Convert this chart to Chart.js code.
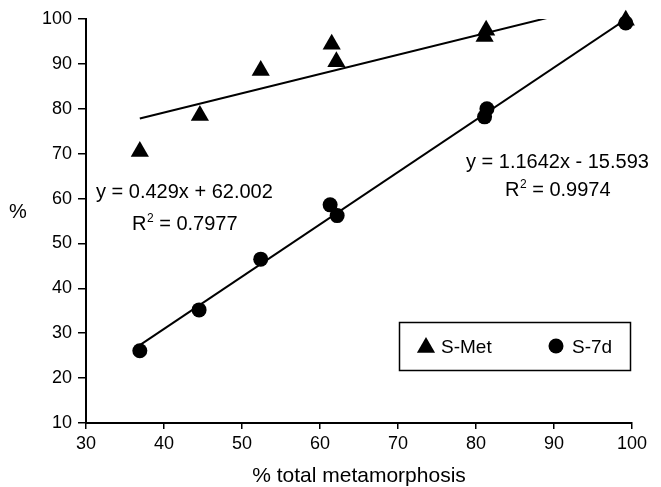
<!DOCTYPE html>
<html>
<head>
<meta charset="utf-8">
<title>S-Met / S-7d vs total metamorphosis</title>
<script src="https://cdn.jsdelivr.net/npm/chart.js@4.4.1/dist/chart.umd.min.js"></script>
<style>
  html, body { margin: 0; padding: 0; background: #fff; }
  #chart { display: block; }
</style>
</head>
<body>
<canvas id="chart" width="661" height="487"></canvas>
<script>
// Values
const metX = [36.9, 44.6, 52.4, 61.5, 62.1, 81.1, 81.3, 99.2];
const metY = [70.5, 78.5, 88.5, 94.4, 90.5, 96.1, 97.5, 99.7];
const d7X = [36.9, 44.5, 52.4, 61.3, 62.2, 81.1, 81.4, 99.2];
const d7Y = [26.1, 35.2, 46.5, 58.6, 56.2, 78.2, 80.0, 99.1];

// Linear trend lines, as printed on the chart
const metTrend = [0.429, 62.002, 0.7977];    // slope, intercept, R2
const d7Trend = [1.1642, -15.593, 0.9974];

const seriesNames = ['S-Met', 'S-7d'];
const xTicks = [30, 40, 50, 60, 70, 80, 90, 100];
const yTicks = [10, 20, 30, 40, 50, 60, 70, 80, 90, 100];

const FONT = "'Liberation Sans', Arial, Helvetica, sans-serif";
Chart.defaults.font.family = FONT;
Chart.defaults.color = '#000';

function toPoints(xs, ys) {
  return xs.map((x, i) => ({ x: x, y: ys[i] }));
}

// two end points of a fitted line, over the range of its x data
function trendPoints(xs, trend) {
  const lo = Math.min(...xs);
  const hi = Math.max(...xs);
  return [lo, hi].map(x => ({ x: x, y: trend[0] * x + trend[1] }));
}

function eqText(trend) {
  const sign = trend[1] < 0 ? ' - ' : ' + ';
  return 'y = ' + trend[0] + 'x' + sign + Math.abs(trend[1]).toFixed(3);
}

// "R" + superscript 2 + " = value"
function drawR2(ctx, x, y, value) {
  ctx.font = '20px ' + FONT;
  ctx.fillText('R', x, y);
  let w = ctx.measureText('R').width;
  ctx.font = '12px ' + FONT;
  ctx.fillText('2', x + w + 0.5, y - 8);
  w += ctx.measureText('2').width + 0.5;
  ctx.font = '20px ' + FONT;
  ctx.fillText(' = ' + value, x + w, y);
}

function drawTriangle(ctx, x, y, r) {
  ctx.beginPath();
  ctx.moveTo(x, y - r);
  ctx.lineTo(x + r * Math.sin(Math.PI * 2 / 3), y - r * Math.cos(Math.PI * 2 / 3));
  ctx.lineTo(x + r * Math.sin(Math.PI * 4 / 3), y - r * Math.cos(Math.PI * 4 / 3));
  ctx.closePath();
  ctx.fill();
}

// equations, legend box and the plain "%" axis label
const decorPlugin = {
  id: 'decor',
  afterDraw(chart) {
    const ctx = chart.ctx;
    ctx.save();
    ctx.fillStyle = '#000';
    ctx.strokeStyle = '#000';
    ctx.textAlign = 'left';
    ctx.textBaseline = 'alphabetic';

    ctx.font = '20px ' + FONT;
    ctx.fillText(eqText(metTrend), 96, 198);
    drawR2(ctx, 132, 230, metTrend[2]);

    ctx.font = '20px ' + FONT;
    ctx.fillText(eqText(d7Trend), 466, 168);
    drawR2(ctx, 505, 196, d7Trend[2]);

    // y axis label, not rotated
    ctx.font = '20px ' + FONT;
    ctx.textAlign = 'center';
    ctx.fillText('%', 18, 218);

    // legend
    ctx.lineWidth = 1.5;
    ctx.strokeRect(399.5, 322.5, 231, 48);
    drawTriangle(ctx, 426, 347.5, 10.5);
    ctx.beginPath();
    ctx.arc(556, 346, 7.5, 0, Math.PI * 2);
    ctx.fill();
    ctx.font = '19px ' + FONT;
    ctx.textAlign = 'left';
    ctx.fillText(seriesNames[0], 441, 353);
    ctx.fillText(seriesNames[1], 572, 353);
    ctx.restore();
  }
};

new Chart(document.getElementById('chart'), {
  type: 'scatter',
  data: {
    datasets: [
      {
        label: seriesNames[0],
        data: toPoints(metX, metY),
        pointStyle: 'triangle',
        pointRadius: 10.5,
        backgroundColor: '#000',
        borderColor: '#000',
        borderWidth: 0,
        clip: false,
        order: 0
      },
      {
        label: seriesNames[1],
        data: toPoints(d7X, d7Y),
        pointStyle: 'circle',
        pointRadius: 7.5,
        backgroundColor: '#000',
        borderColor: '#000',
        borderWidth: 0,
        clip: false,
        order: 0
      },
      {
        label: 'S-Met trend',
        data: trendPoints(metX, metTrend),
        showLine: true,
        pointRadius: 0,
        borderColor: '#000',
        borderWidth: 2,
        order: 1
      },
      {
        label: 'S-7d trend',
        data: trendPoints(d7X, d7Trend),
        showLine: true,
        pointRadius: 0,
        borderColor: '#000',
        borderWidth: 2,
        order: 1
      }
    ]
  },
  options: {
    responsive: false,
    animation: false,
    events: [],
    layout: { padding: { top: 19, right: 29, left: 0, bottom: 0 } },
    plugins: {
      legend: { display: false },
      tooltip: { enabled: false }
    },
    scales: {
      x: {
        type: 'linear',
        min: 30,
        max: 100,
        afterBuildTicks: s => { s.ticks = xTicks.map(v => ({ value: v })); },
        afterFit: s => { s.height = 64; },
        border: { display: true, color: '#000', width: 2 },
        grid: { drawOnChartArea: false, drawTicks: true, tickLength: 6, color: '#000', lineWidth: 1.5 },
        ticks: { color: '#000', padding: 4, font: { size: 18 } },
        title: {
          display: true,
          text: '% total metamorphosis',
          color: '#000',
          font: { size: 21, lineHeight: 1 },
          padding: { top: 0, bottom: 0 }
        }
      },
      y: {
        type: 'linear',
        min: 10,
        max: 100,
        afterBuildTicks: s => { s.ticks = yTicks.map(v => ({ value: v })); },
        afterFit: s => { s.width = 86; },
        border: { display: true, color: '#000', width: 2 },
        grid: { drawOnChartArea: false, drawTicks: true, tickLength: 8, color: '#000', lineWidth: 1.5 },
        ticks: { color: '#000', padding: 6, font: { size: 18 } }
      }
    }
  },
  plugins: [decorPlugin]
});
</script>
</body>
</html>
